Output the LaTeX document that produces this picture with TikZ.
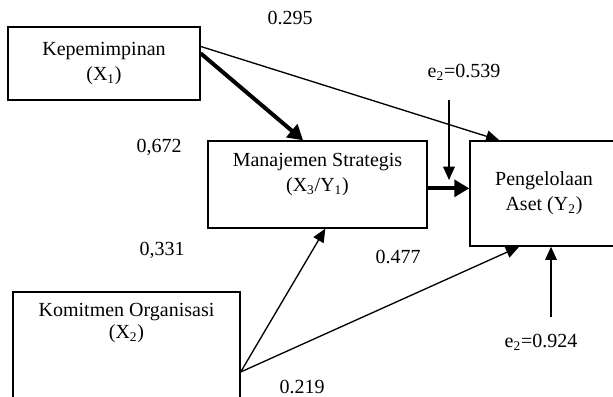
\documentclass[tikz,border=0pt]{standalone}
\usepackage{fontspec}
\setmainfont{Liberation Serif}
\usetikzlibrary{positioning,arrows.meta}

\begin{document}
\begin{tikzpicture}[x=0.6pt,y=-0.6pt]
    \tikzset{
      var/.style = { draw, line width = 0.8pt, align = center, inner sep = 0pt, font = \fontsize{12pt}{15pt}\selectfont },
      coef/.style = { inner sep = 1pt, font = \fontsize{12pt}{15pt}\selectfont },
      effect/.style = { line width = 0.8pt, -{Triangle[length = 8pt, width = 7pt]} },
      strong effect/.style = { line width = 2.4pt, -{Triangle[length = 9pt, width = 10pt]} },
    }
    \useasboundingbox (0,0) rectangle (613,397);

    \node[var, minimum width = 115.2pt, minimum height = 43.8pt] (kepemimpinan) at (104,63.5)
        {Kepemimpinan\\(X\textsubscript{1})};
    \node[var, minimum width = 131.4pt, minimum height = 52.2pt] (manajemen strategis) at (317.5,184.5)
        {Manajemen Strategis\\(X\textsubscript{3}/Y\textsubscript{1})\\\mbox{}};
    \node[var, minimum width = 88.8pt, minimum height = 63pt] (pengelolaan aset) at (544,193.5)
        {Pengelolaan\\Aset (Y\textsubscript{2})};
    \node[var, minimum width = 136.2pt, minimum height = 96pt] (komitmen organisasi) at (126.5,372) {};
    \node[coef, align = center, below = 6pt of komitmen organisasi.north] (komitmen text)
        {Komitmen Organisasi\\[-1.8pt](X\textsubscript{2})};

    % path coefficients
    \node[coef] (coef x1 y2) at (290,18) {0.295};
    \node[coef] (coef x1 y1) at (159,147) {0,672};
    \node[coef] (coef x2 y1) at (162,250) {0,331};
    \node[coef] (coef y1 y2) at (398,257) {0.477};
    \node[coef] (coef x2 y2) at (302,387) {0.219};
    \node[coef] (error y1) at (464,72) {e\textsubscript{2}=0.539};
    \node[coef] (error y2) at (541,342) {e\textsubscript{2}=0.924};

    \coordinate (error y1 start) at (449,100);
    \coordinate (error y1 end) at (449,180);
    \coordinate (error y2 start) at (551,317);

    \draw[strong effect] (kepemimpinan.6) -- (manajemen strategis.108);
    \draw[effect] (kepemimpinan.10) -- (pengelolaan aset.130);
    \draw[strong effect] (manajemen strategis.358) -- (manajemen strategis.358 -| pengelolaan aset.west);
    \draw[effect] (komitmen organisasi.east) -- (manajemen strategis.280);
    \draw[effect] (komitmen organisasi.east) -- (pengelolaan aset.245);
    \draw[effect] (error y1 start) -- (error y1 end);
    \draw[effect] (error y2 start) -- (error y2 start |- pengelolaan aset.south);
\end{tikzpicture}
\end{document}
